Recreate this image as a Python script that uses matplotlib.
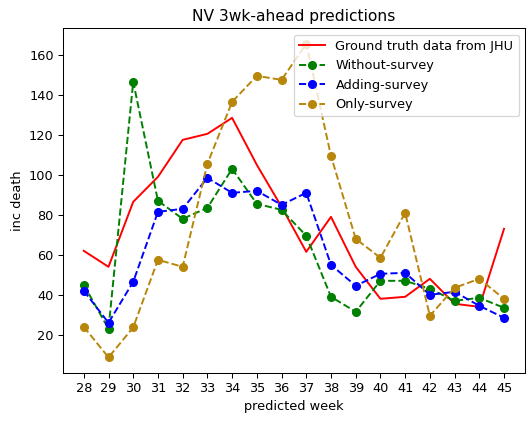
import matplotlib
matplotlib.use('Agg')
import matplotlib.pyplot as plt

weeks = list(range(28, 46))
ground_truth = [62, 54, 86.5, 99, 117.5, 120.5, 128.5, 105, 84, 61.5, 79, 54, 38, 39, 48, 35.5, 34, 73]
without_survey = [45, 23, 146.5, 87, 78, 83.5, 103, 85.5, 82.5, 69.5, 39, 31.5, 47, 47, 43, 37, 38.5, 33.5]
adding_survey = [42, 26, 46.5, 81.5, 83, 98.5, 91, 92, 85, 91, 55, 44.5, 50.5, 51, 40, 41.5, 34.5, 28.5]
only_survey = [24, 8.7, 23.7, 57.5, 54, 105.5, 136.5, 149.5, 147.5, 165.5, 109.5, 68, 58.5, 81, 29.5, 43.5, 48, 38]

# original looks like a slightly shrunk render, so use a lower dpi
fig = plt.figure(figsize=(5.72, 4.55), dpi=93)
ax = fig.add_axes([0.118, 0.118, 0.869, 0.815])

ax.plot(weeks, ground_truth, 'r-', label='Ground truth data from JHU')
ax.plot(weeks, without_survey, 'go--', label='Without-survey')
ax.plot(weeks, adding_survey, 'bo--', label='Adding-survey')
ax.plot(weeks, only_survey, 'o--', color='darkgoldenrod', label='Only-survey')

ax.set_xticks(weeks)
ax.set_title('NV 3wk-ahead predictions')
ax.set_xlabel('predicted week')
ax.set_ylabel('inc death')
ax.legend(loc='upper right')

fig.savefig('out.png')
